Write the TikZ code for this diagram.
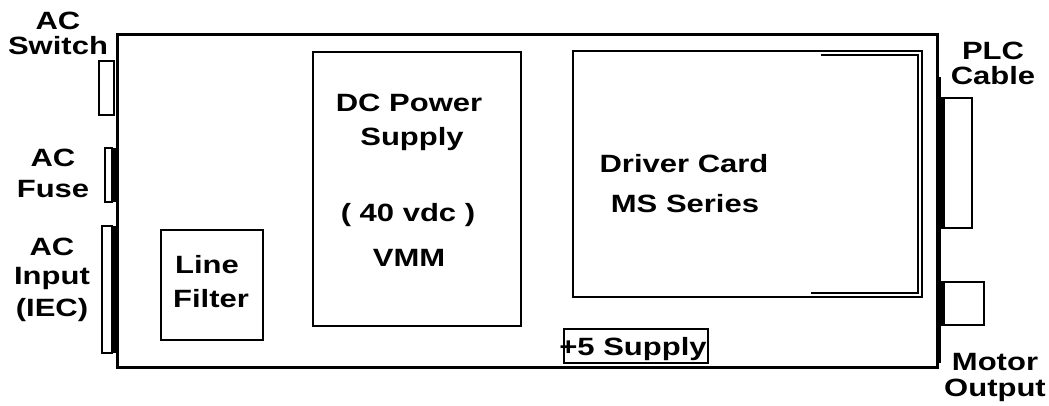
\documentclass[tikz,border=0pt]{standalone}
\usepackage{fontspec}
\setmainfont{Liberation Sans}[FakeStretch=1.24]
\begin{document}
\begin{tikzpicture}[x=1pt,y=-1pt,
  lbl/.style={inner sep=0pt,anchor=base,font=\fontsize{25}{29}\selectfont\bfseries},
  outer/.style={draw=black,line width=3pt},
  part/.style={draw=black,line width=1.5pt},
  conn/.style={draw=black,line width=2pt},
  strip/.style={fill=black,draw=none}]
\useasboundingbox (0,0) rectangle (1049,406);
% enclosure
\draw[outer] (117,35) rectangle (937,367);
\draw[conn] (940,77) -- (940,363);
% left connectors
\draw[conn] (99,61) rectangle (114,115);
\fill[strip] (111,148) rectangle (117,202);
\draw[conn] (105,148) rectangle (112,202);
\fill[strip] (111,226) rectangle (117,353);
\draw[conn] (102,226) rectangle (112,353);
% right connectors
\fill[strip] (939,98) rectangle (945,228);
\draw[conn] (942,98) rectangle (972,228);
\fill[strip] (939,282) rectangle (945,325);
\draw[conn] (942,282) rectangle (984,325);
% internal parts
\draw[part] (161,230) rectangle (263,340);
\draw[part] (313,52) rectangle (521,326);
\draw[part] (573,51) rectangle (922,297);
\draw[part] (821,55) -- (918,55) -- (918,293) -- (811,293);
\draw[part] (564,329) rectangle (708,363);
% labels
\node[lbl] (sw1) at (58,30) {AC};
\node[lbl] (sw2) at (58,55) {Switch};
\node[lbl] (fu1) at (53,167) {AC};
\node[lbl] (fu2) at (53,197) {Fuse};
\node[lbl] (in1) at (52,255) {AC};
\node[lbl] (in2) at (52,284) {Input};
\node[lbl] (in3) at (52,316) {(IEC)};
\node[lbl] (lf1) at (207,273) {Line};
\node[lbl] (lf2) at (211,307) {Filter};
\node[lbl] (dc1) at (409,112) {DC Power};
\node[lbl] (dc2) at (412,146) {Supply};
\node[lbl] (dc3) at (408,222) {( 40 vdc )};
\node[lbl] (dc4) at (409,266) {VMM};
\node[lbl] (dr1) at (684,173) {Driver Card};
\node[lbl] (dr2) at (685,213) {MS Series};
\node[lbl] (p5) at (633,355) {+5 Supply};
\node[lbl] (plc1) at (993,60) {PLC};
\node[lbl] (plc2) at (993,85) {Cable};
\node[lbl] (mo1) at (995,370) {Motor};
\node[lbl] (mo2) at (995,396) {Output};
\end{tikzpicture}
\end{document}
